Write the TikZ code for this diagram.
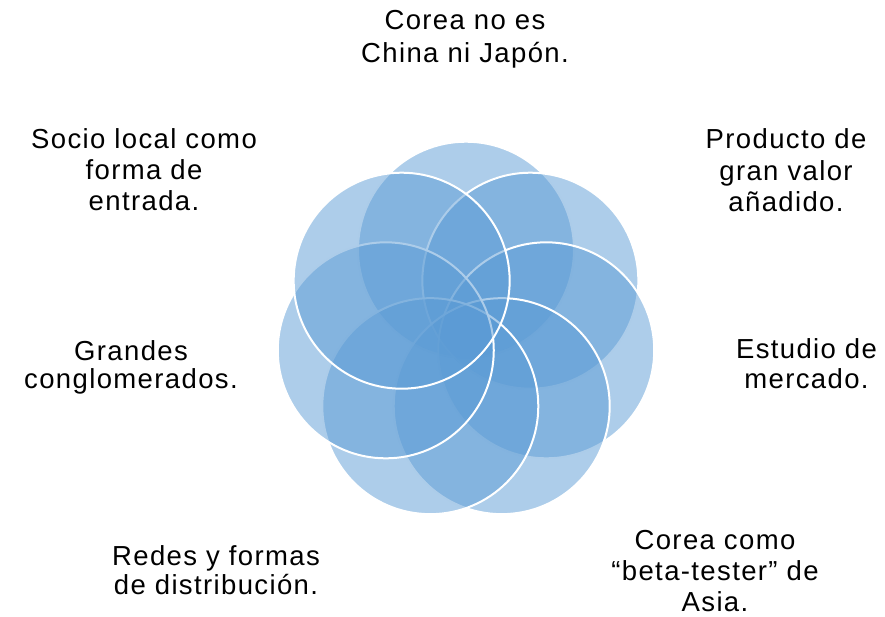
\documentclass[tikz,border=0pt]{standalone}
\usepackage{fontspec}
\setmainfont[LetterSpace=5]{Liberation Sans}
\definecolor{cblue}{HTML}{5B9BD5}
\newcommand{\firststrut}{\rule{0pt}{22pt}}
\begin{document}
\begin{tikzpicture}[x=1pt,y=-1pt]
\tikzset{
  petal/.style={circle, minimum size=216pt, inner sep=0pt, fill=cblue, fill opacity=0.5, draw=white, line width=2pt},
  lbl/.style={align=center, inner sep=0pt, outer sep=0pt, anchor=north, font=\fontsize{27.5}{#1}\selectfont}
}
\useasboundingbox (0,0) rectangle (885,616);
\foreach \k in {0,...,6}{
  \pgfmathsetmacro\ang{90-360/7*\k}
  \node[petal] (c\k) at ({466+82.3*cos(\ang)},{332-82.3*sin(\ang)}) {};
}
\node[lbl=33.4] (t0) at (465,7.3) {\firststrut Corea no es\\China ni Japón.};
\node[lbl=31.7] (t1) at (786,126.3) {\firststrut Producto de\\gran valor\\añadido.};
\node[lbl=30] (t2) at (806.5,336.3) {\firststrut Estudio de\\mercado.};
\node[lbl=31.2] (t3) at (715,527.3) {\firststrut Corea como\\“beta-tester” de\\Asia.};
\node[lbl=29] (t4) at (216,543) {\firststrut Redes y formas\\de distribución.};
\node[lbl=28.3] (t5) at (131,338) {\firststrut Grandes\\conglomerados.};
\node[lbl=31.2] (t6) at (144,126.3) {\firststrut Socio local como\\forma de\\entrada.};
\end{tikzpicture}
\end{document}
